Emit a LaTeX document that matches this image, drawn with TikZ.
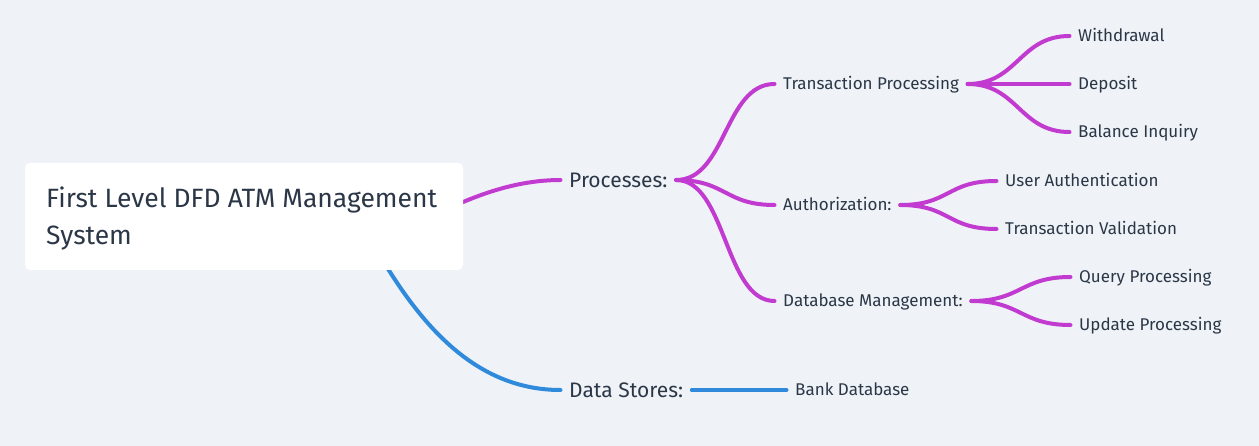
\documentclass[tikz,border=0pt]{standalone}
\usepackage{fontspec}
\setmainfont{Fira Sans}
\definecolor{bgc}{HTML}{EFF3F7}
\definecolor{mag}{HTML}{C13BD0}
\definecolor{blu}{HTML}{2F8ADB}
\definecolor{txt}{HTML}{2B3747}
\pgfdeclarelayer{back}
\pgfsetlayers{back,main}
\begin{document}
\begin{tikzpicture}[x=1pt,y=-1pt,
  lbl/.style={anchor=west, inner xsep=8.5pt, inner ysep=0pt, text height=11.7pt, text depth=0pt, text=txt, font=\fontsize{17}{20}\selectfont},
  big/.style={lbl, text height=14.5pt, font=\fontsize{21}{24}\selectfont},
  mline/.style={draw=mag, line width=4pt, line cap=round},
  bline/.style={draw=blu, line width=4pt, line cap=round},
  rootbox/.style={fill=white, rounded corners=5pt, minimum width=438pt, minimum height=107pt, inner sep=0pt},
  roottext/.style={anchor=base west, inner sep=0pt, text=txt, font=\fontsize{26.5}{37}\selectfont}
]
\useasboundingbox (0,0) rectangle (1259,446);
\begin{pgfonlayer}{back}
\fill[bgc] (0,0) rectangle (1259,446);
\end{pgfonlayer}

% root
\node[rootbox] (root) at (244,216.5) {};
\node[roottext] (roottxt) at (46,208) {\vtop{\baselineskip=37pt\hbox{First Level DFD ATM Management}\hbox{System}}};

% level 1
\node[big] (proc) at (560.5,180) {Processes:};
\node[big] (ds) at (560.5,390) {Data Stores:};

% level 2
\node[lbl] (tp) at (774.5,84) {Transaction Processing};
\node[lbl] (au) at (774.5,205) {Authorization:};
\node[lbl] (dm) at (774.5,301) {Database Management:};
\node[lbl] (bd) at (786.5,390) {Bank Database};

% level 3
\node[lbl] (wd) at (1069.5,36) {Withdrawal};
\node[lbl] (dp) at (1069.5,84) {Deposit};
\node[lbl] (bi) at (1069.5,132) {Balance Inquiry};
\node[lbl] (ua) at (996.5,181) {User Authentication};
\node[lbl] (tv) at (996.5,229) {Transaction Validation};
\node[lbl] (qp) at (1070.5,277) {Query Processing};
\node[lbl] (up) at (1070.5,325) {Update Processing};

\coordinate (r1) at (420,222);
\coordinate (r2) at (350,200);

\begin{pgfonlayer}{back}
\draw[mline] (r1) .. controls +(30,-14) and +(-60,0) .. (proc.west);
\draw[bline] (r2) .. controls +(50,100) and +(-100,0) .. (ds.west);

\draw[mline] (proc.east) .. controls +(50,0) and +(-50,0) .. (tp.west);
\draw[mline] (proc.east) .. controls +(50,0) and +(-50,0) .. (au.west);
\draw[mline] (proc.east) .. controls +(50,0) and +(-50,0) .. (dm.west);
\draw[bline] (ds.east) -- (bd.west);

\draw[mline] (tp.east) .. controls +(50,0) and +(-50,0) .. (wd.west);
\draw[mline] (tp.east) -- (dp.west);
\draw[mline] (tp.east) .. controls +(50,0) and +(-50,0) .. (bi.west);
\draw[mline] (au.east) .. controls +(50,0) and +(-50,0) .. (ua.west);
\draw[mline] (au.east) .. controls +(50,0) and +(-50,0) .. (tv.west);
\draw[mline] (dm.east) .. controls +(50,0) and +(-50,0) .. (qp.west);
\draw[mline] (dm.east) .. controls +(50,0) and +(-50,0) .. (up.west);
\end{pgfonlayer}
\end{tikzpicture}
\end{document}
